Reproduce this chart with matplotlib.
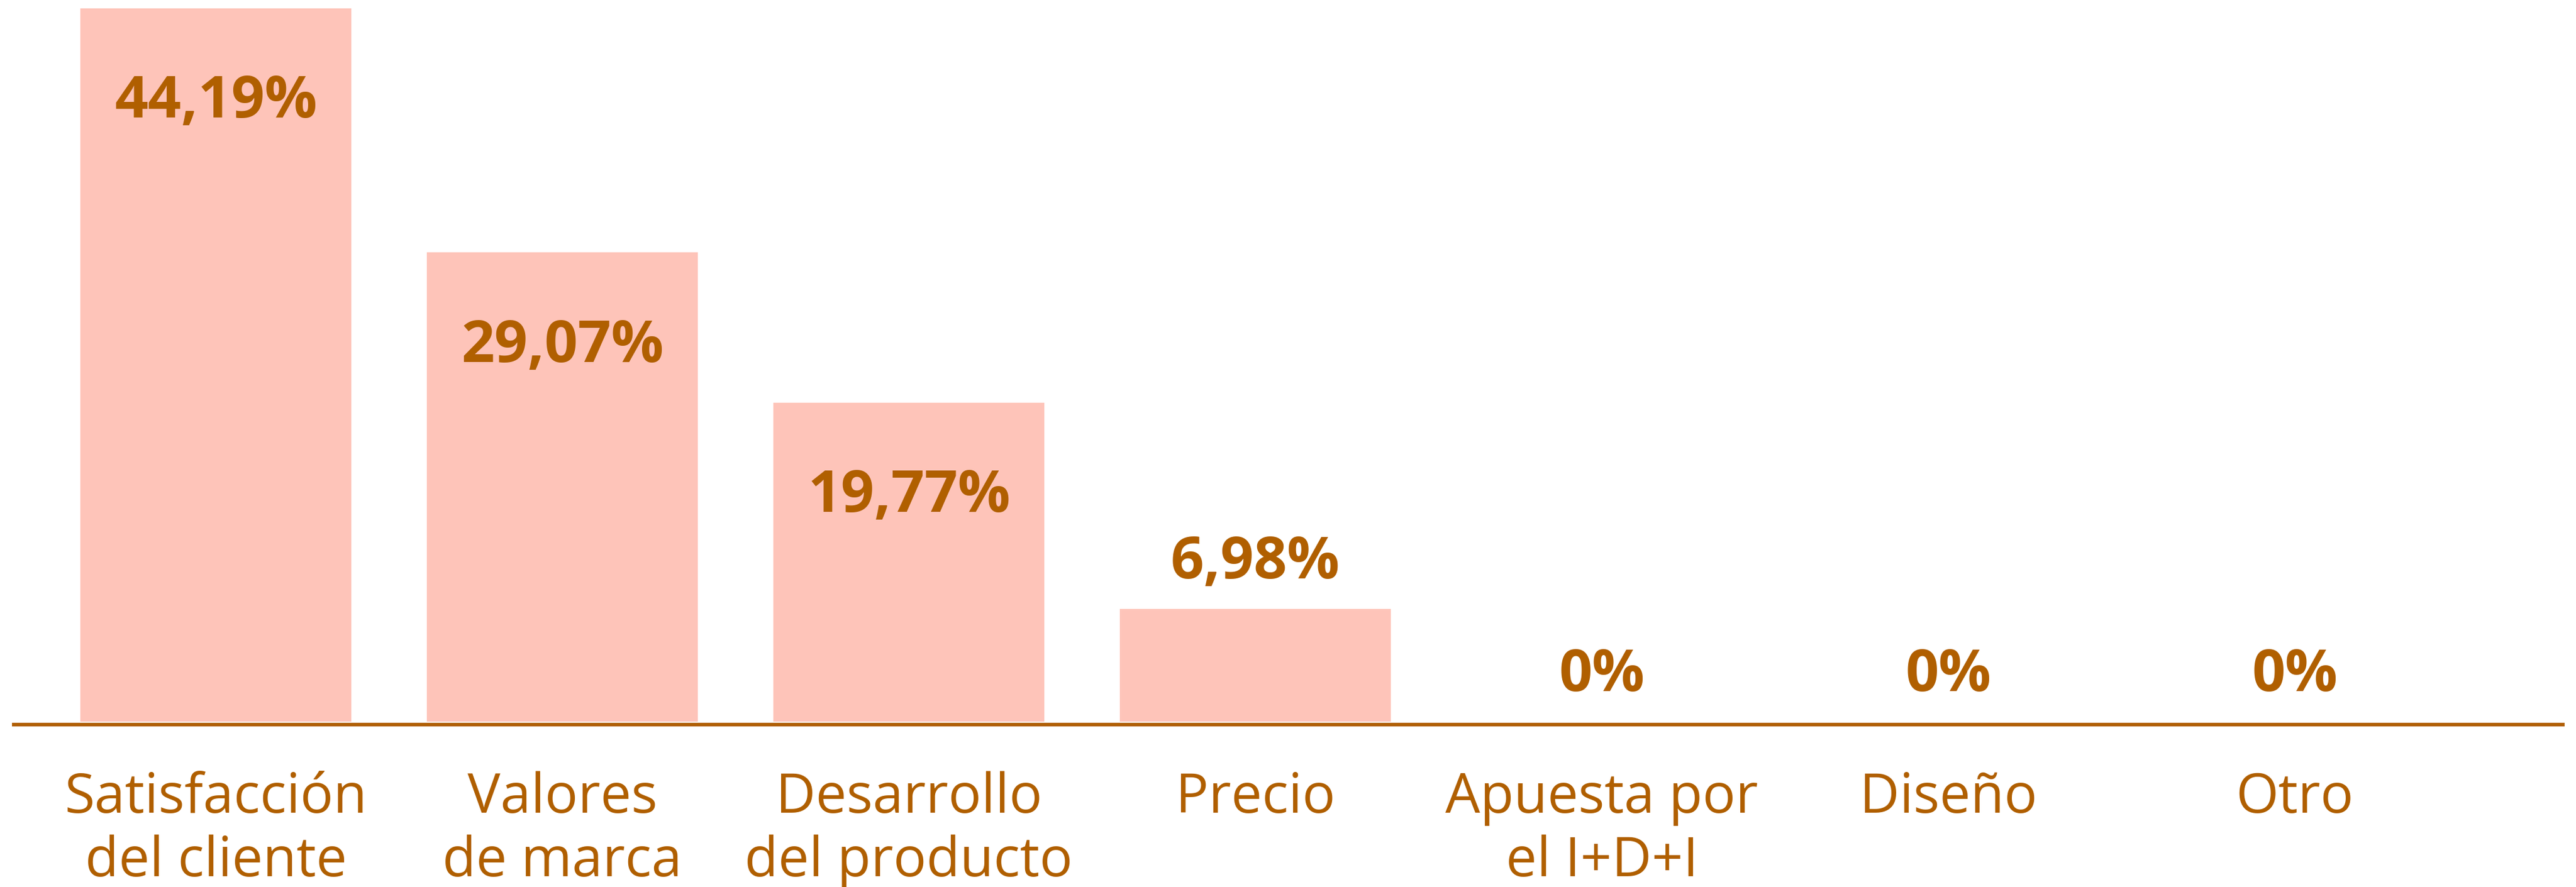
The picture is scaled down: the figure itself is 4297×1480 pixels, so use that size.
import matplotlib
matplotlib.use("Agg")
import matplotlib.pyplot as plt

# data
categories = ["Satisfacción\ndel cliente", "Valores\nde marca", "Desarrollo\ndel producto",
              "Precio", "Apuesta por\nel I+D+I", "Diseño", "Otro"]
values = [44.19, 29.07, 19.77, 6.98, 0, 0, 0]

bar_color = "#FEC4B9"
text_color = "#B05F00"

plt.rcParams["font.family"] = ["Open Sans", "DejaVu Sans"]

W, H = 4297, 1480
fig = plt.figure(figsize=(W / 100, H / 100), dpi=100)
ax = fig.add_axes([23 / W, (H - 1204) / H, 4252 / W, 1190 / H])

# spine position first: moving it resets the tick labels
for side in ["top", "right", "left"]:
    ax.spines[side].set_visible(False)
ax.spines["bottom"].set_position(("outward", 3.6))
ax.spines["bottom"].set_color(text_color)
ax.spines["bottom"].set_linewidth(4.3)

x = list(range(len(categories)))
bars = ax.bar(x, values, width=0.782, color=bar_color, zorder=1)

ax.set_xlim(-0.583, 6.773)
ax.set_ylim(0, max(values))

for rect, v in zip(bars, values):
    label = "0%" if v == 0 else f"{v:.2f}".replace(".", ",") + "%"
    # tall bars get the label inside, short ones above
    dy = -113 if v > 10 else 55
    ax.annotate(label, (rect.get_x() + rect.get_width() / 2, v),
                xytext=(0, dy), textcoords="offset points",
                ha="center", va="center", fontsize=70, fontweight="bold",
                color=text_color)

ax.set_xticks(x)
ax.set_xticklabels(categories, fontsize=66, color=text_color, linespacing=1.2)
ax.tick_params(axis="x", length=0, pad=56)
ax.set_yticks([])

fig.savefig("out.png", dpi=100, facecolor="white")
